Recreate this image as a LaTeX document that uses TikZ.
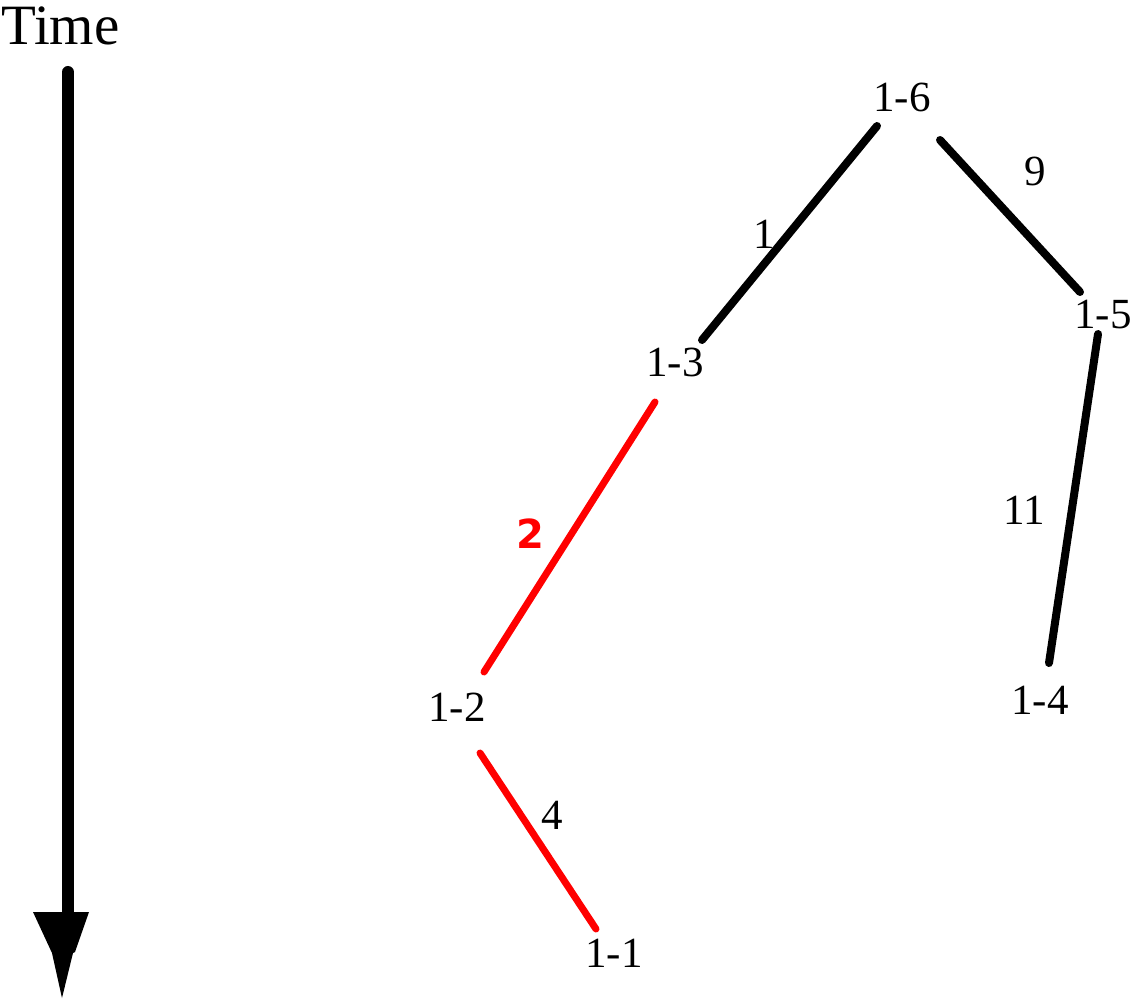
\documentclass[tikz,border=0pt]{standalone}
\usepackage{fontspec}
\setmainfont{Liberation Serif}
\newfontfamily\boldsans{DejaVu Sans}
\usetikzlibrary{calc}
\begin{document}
\begin{tikzpicture}[x=1pt,y=-1pt,
  vlabel/.style={inner sep=0pt,font=\fontsize{43}{43}\selectfont},
  elabel/.style={inner sep=0pt,font=\fontsize{43}{43}\selectfont},
  blackedge/.style={line width=8pt,line cap=round,black},
  rededge/.style={line width=7pt,line cap=round,red}]
\useasboundingbox (0,0) rectangle (1131,1000);
% time axis
\node[inner sep=0pt,anchor=base west,font=\fontsize{57}{57}\selectfont] (time) at (1,45) {Time};
\coordinate (tstart) at (68,72);
\coordinate (tend) at (68,915);
\draw[line width=12pt,line cap=round] (tstart) -- (tend);
\fill (33,912) -- (89,912) -- (75,952) -- (73,953) -- (62,998) -- (52,953) -- cycle;
% vertices
\node[vlabel] (n16) at (902,97) {1-6};
\node[vlabel] (n13) at (675,362) {1-3};
\node[vlabel] (n15) at (1103,315) {1-5};
\node[vlabel] (n12) at (457,707) {1-2};
\node[vlabel] (n14) at (1040,700) {1-4};
\node[vlabel] (n11) at (614,953) {1-1};
% edges
\draw[blackedge] ($(n16)+(-25,29)$) -- ($(n13)+(27,-22)$);
\draw[blackedge] ($(n16)+(38,43)$) -- ($(n15)+(-23,-23)$);
\draw[blackedge] ($(n15)+(-5,19)$) -- ($(n14)+(9,-37)$);
\draw[rededge] ($(n13)+(-20,40)$) -- ($(n12)+(27,-35)$);
\draw[rededge] ($(n12)+(23,46)$) -- ($(n11)+(-18,-24)$);
% edge labels
\node[elabel] (w1) at (764,234) {1};
\node[elabel] (w9) at (1035,171) {9};
\node[elabel] (w11) at (1024,510) {11};
\node[elabel] (w4) at (552,815) {4};
\node[inner sep=0pt,text=red,font=\boldsans\bfseries\fontsize{40}{40}\selectfont] (w2) at (530,534) {2};
\end{tikzpicture}
\end{document}
